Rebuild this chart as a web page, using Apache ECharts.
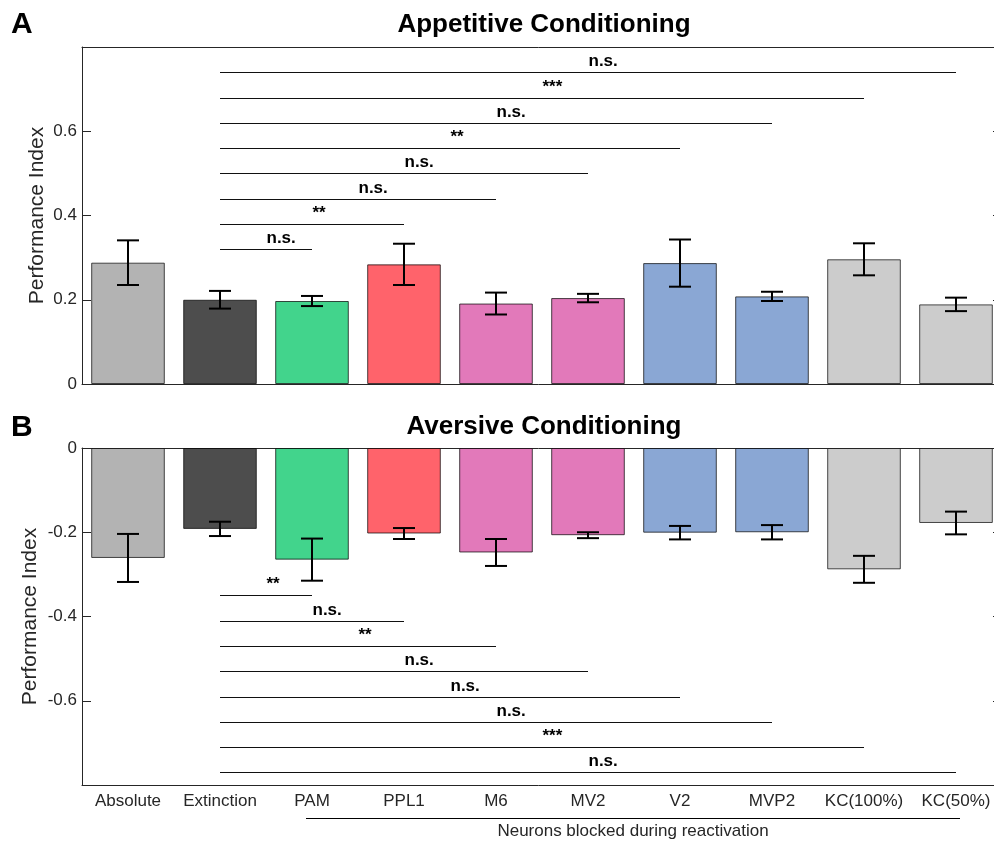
<!DOCTYPE html>
<html>
<head>
<meta charset="utf-8">
<script src="https://cdn.jsdelivr.net/npm/echarts@6/dist/echarts.min.js"></script>
<style>
html,body{margin:0;padding:0;background:#fff;}
#chart{width:994px;height:842px;}
</style>
</head>
<body>
<div id="chart"></div>
<script>
// ---- data ----
const categories = ['Absolute','Extinction','PAM','PPL1','M6','MV2','V2','MVP2','KC(100%)','KC(50%)'];
const appMean = [0.288, 0.200, 0.197, 0.284, 0.191, 0.204, 0.287, 0.208, 0.296, 0.189];
const appErr  = [0.053, 0.021, 0.012, 0.049, 0.026, 0.010, 0.056, 0.011, 0.038, 0.016];
const avMean  = [-0.261, -0.192, -0.265, -0.203, -0.248, -0.207, -0.201, -0.200, -0.288, -0.178];
const avErr   = [0.057, 0.017, 0.050, 0.013, 0.032, 0.007, 0.016, 0.017, 0.032, 0.027];
const sigStart = 1;
const sigEnds = [2, 3, 4, 5, 6, 7, 8, 9];
const sigYA = [0.32, 0.38, 0.44, 0.50, 0.56, 0.62, 0.68, 0.74];
const sigLabelsA = ['n.s.', '**', 'n.s.', 'n.s.', '**', 'n.s.', '***', 'n.s.'];
const sigYB = [-0.35, -0.41, -0.47, -0.53, -0.59, -0.65, -0.71, -0.77];
const sigLabelsB = ['**', 'n.s.', '**', 'n.s.', 'n.s.', 'n.s.', '***', 'n.s.'];
const yTicksA = [0, 0.2, 0.4, 0.6];
const yTicksB = [0, -0.2, -0.4, -0.6];

// ---- styles ----
const barColors = ['#b3b3b3','#4d4d4d','#42d48c','#ff636b','#e279ba','#e279ba','#8aa7d4','#8aa7d4','#cccccc','#cccccc'];
const FONT = '"Liberation Sans", Arial, Helvetica, sans-serif';
const AXC = '#262626';

const chart = echarts.init(document.getElementById('chart'), null, {renderer: 'canvas'});

function xAxes(gridIndex, showLabels) {
  return [{
    type: 'category', gridIndex, data: categories, position: 'bottom',
    axisLine: {onZero: false, lineStyle: {color: AXC, width: 1}},
    axisTick: {inside: true, length: 9, alignWithLabel: true, lineStyle: {color: AXC}},
    axisLabel: {show: showLabels, interval: 0, color: AXC, fontSize: 17, fontFamily: FONT, margin: 8},
    splitLine: {show: false}
  }, {
    type: 'category', gridIndex, data: categories, position: 'top',
    axisLine: {onZero: false, lineStyle: {color: AXC, width: 1}},
    axisTick: {inside: true, length: 9, alignWithLabel: true, lineStyle: {color: AXC}},
    axisLabel: {show: false}, splitLine: {show: false}
  }];
}
function yAxes(gridIndex, min, max, ticks, nameGap) {
  const fmt = v => ticks.some(t => Math.abs(t - v) < 1e-9) ? (Math.abs(v) < 1e-9 ? '0' : String(+v.toFixed(1))) : '';
  return [{
    type: 'value', gridIndex, min, max, interval: 0.2, position: 'left',
    name: 'Performance Index', nameLocation: 'middle', nameGap, nameMoveOverlap: false,
    nameTextStyle: {fontSize: 21, color: AXC, fontFamily: FONT},
    axisLine: {show: true, onZero: false, lineStyle: {color: AXC, width: 1}},
    axisTick: {show: true, inside: true, length: 9, lineStyle: {color: AXC}},
    axisLabel: {color: AXC, fontSize: 17, fontFamily: FONT, margin: 5, formatter: fmt},
    splitLine: {show: false}
  }, {
    type: 'value', gridIndex, min, max, interval: 0.2, position: 'right',
    axisLine: {show: true, onZero: false, lineStyle: {color: AXC, width: 1}},
    axisTick: {show: true, inside: true, length: 9, lineStyle: {color: AXC}},
    axisLabel: {show: false}, splitLine: {show: false}
  }];
}

function barSeries(means, xi, yi) {
  return {
    type: 'bar', xAxisIndex: xi, yAxisIndex: yi, barWidth: '80%', z: 2,
    data: means.map((v, i) => ({value: v, itemStyle: {color: barColors[i], borderColor: 'rgba(0,0,0,0.7)', borderWidth: 1}})),
    animation: false
  };
}
function errSeries(means, errs, xi, yi) {
  return {
    type: 'custom', xAxisIndex: xi, yAxisIndex: yi, z: 5,
    data: means.map((v, i) => [i, v, errs[i]]),
    encode: {x: 0, y: 1},
    renderItem: (params, api) => {
      const i = api.value(0), m = api.value(1), e = api.value(2);
      const hi = api.coord([i, m + e]);
      const lo = api.coord([i, m - e]);
      const w = 11;
      const st = {stroke: '#000', lineWidth: 2};
      return {type: 'group', children: [
        {type: 'line', shape: {x1: hi[0], y1: hi[1], x2: lo[0], y2: lo[1]}, style: st},
        {type: 'line', shape: {x1: hi[0] - w, y1: hi[1], x2: hi[0] + w, y2: hi[1]}, style: st},
        {type: 'line', shape: {x1: lo[0] - w, y1: lo[1], x2: lo[0] + w, y2: lo[1]}, style: st}
      ]};
    },
    animation: false
  };
}
function sigSeries(ys, labels, xi, yi) {
  return {
    type: 'custom', xAxisIndex: xi, yAxisIndex: yi, z: 6,
    data: sigEnds.map((e, k) => [sigStart, e, ys[k]]),
    encode: {x: [0, 1], y: 2},
    renderItem: (params, api) => {
      const a = api.coord([api.value(0), api.value(2)]);
      const b = api.coord([api.value(1), api.value(2)]);
      const y = Math.round(a[1]) + 0.5;
      const mid = (a[0] + b[0]) / 2;
      return {type: 'group', children: [
        {type: 'line', shape: {x1: a[0], y1: y, x2: b[0], y2: y}, style: {stroke: '#111', lineWidth: 1}},
        {type: 'text', x: mid + 0.5, y: y - 3, style: {text: labels[params.dataIndex], fill: '#000',
          font: 'bold 17px ' + FONT, textAlign: 'left', textVerticalAlign: 'bottom'}}
      ]};
    },
    animation: false
  };
}

const option = {
  animation: false,
  backgroundColor: '#fff',
  grid: [
    {left: 82, top: 47, width: 920, height: 337, outerBoundsMode: 'none', containLabel: false},
    {left: 82, top: 448, width: 920, height: 337, outerBoundsMode: 'none', containLabel: false}
  ],
  xAxis: [...xAxes(0, false), ...xAxes(1, true)],
  yAxis: [...yAxes(0, 0, 0.8, yTicksA, 34), ...yAxes(1, -0.8, 0, yTicksB, 41)],
  series: [
    barSeries(appMean, 0, 0),
    errSeries(appMean, appErr, 0, 0),
    sigSeries(sigYA, sigLabelsA, 0, 0),
    barSeries(avMean, 2, 2),
    errSeries(avMean, avErr, 2, 2),
    sigSeries(sigYB, sigLabelsB, 2, 2)
  ],
  graphic: [
    {type: 'text', left: 11, top: 10, style: {text: 'A', font: 'bold 30px ' + FONT, fill: '#000'}},
    {type: 'text', left: 11, top: 413, style: {text: 'B', font: 'bold 30px ' + FONT, fill: '#000'}},
    {type: 'text', x: 544, y: 25, style: {text: 'Appetitive Conditioning', font: 'bold 26px ' + FONT, fill: '#000', textAlign: 'center', textVerticalAlign: 'middle'}},
    {type: 'text', x: 544, y: 427, style: {text: 'Aversive Conditioning', font: 'bold 26px ' + FONT, fill: '#000', textAlign: 'center', textVerticalAlign: 'middle'}},
    {type: 'line', shape: {x1: 306, y1: 818.5, x2: 960, y2: 818.5}, style: {stroke: '#000', lineWidth: 1}},
    {type: 'text', x: 633, y: 831, style: {text: 'Neurons blocked during reactivation', font: '17px ' + FONT, fill: AXC, textAlign: 'center', textVerticalAlign: 'middle'}}
  ]
};
chart.setOption(option);
</script>
</body>
</html>
